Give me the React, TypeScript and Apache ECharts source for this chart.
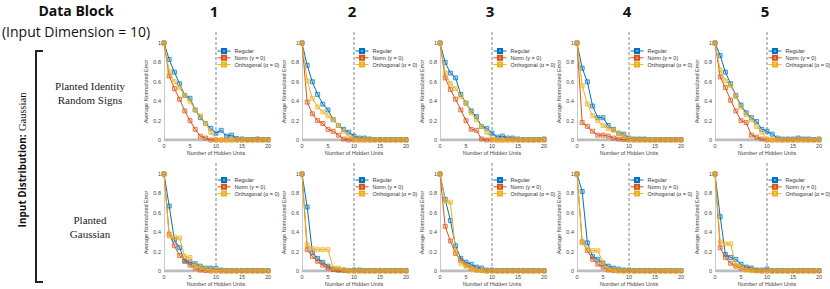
import React, { useEffect, useRef } from 'react';
import * as echarts from 'echarts';

const HIDDEN_UNITS = [0, 1, 2, 3, 4, 5, 6, 7, 8, 9, 10, 11, 12, 13, 14, 15, 16, 17, 18, 19, 20];
const COLUMN_LABELS = ['1', '2', '3', '4', '5'];
const ROW_LABELS = [['Planted Identity', 'Random Signs'], ['Planted', 'Gaussian']];
const SERIES_NAMES = ['Regular', 'Norm (γ = 0)', 'Orthogonal (α = 0)'];
const SERIES_COLORS = ['#0072BD', '#D95319', '#EDB120'];
const SERIES_FILLS = ['rgba(0,114,189,0.25)', 'rgba(217,83,25,0.25)', 'rgba(237,177,32,0.3)'];
const THRESHOLD_X = 10;
const THRESHOLD_TOP = 1.12;

// Row 1: Planted Identity Random Signs
const ROW1_REGULAR = [
  [1, 0.83, 0.70, 0.58, 0.46, 0.43, 0.31, 0.23, 0.17, 0.12, 0.07, 0.10, 0.04, 0.05, 0.015, 0.01, 0.005, 0.005, 0.01, 0.005, 0.005],
  [1, 0.77, 0.60, 0.47, 0.37, 0.31, 0.21, 0.15, 0.11, 0.08, 0.04, 0.02, 0.02, 0.01, 0.005, 0.005, 0.005, 0.005, 0.005, 0.005, 0.005],
  [1, 0.80, 0.69, 0.64, 0.47, 0.38, 0.30, 0.24, 0.14, 0.12, 0.07, 0.03, 0.04, 0.02, 0.02, 0.01, 0.005, 0.005, 0.005, 0.005, 0.01],
  [1, 0.74, 0.60, 0.35, 0.23, 0.23, 0.15, 0.11, 0.07, 0.06, 0.02, 0.01, 0.01, 0.01, 0.005, 0.005, 0.005, 0.005, 0.005, 0.005, 0.005],
  [1, 0.87, 0.70, 0.58, 0.46, 0.36, 0.28, 0.23, 0.19, 0.11, 0.09, 0.06, 0.02, 0.01, 0.01, 0.01, 0.02, 0.01, 0.01, 0.005, 0.01],
];
const ROW1_NORM = [
  [1, 0.66, 0.53, 0.42, 0.30, 0.20, 0.11, 0.04, 0.02, 0, 0, 0, 0, 0, 0, 0, 0, 0, 0, 0, 0],
  [1, 0.39, 0.27, 0.20, 0.17, 0.11, 0.09, 0.05, 0.01, 0, 0, 0, 0, 0, 0, 0, 0, 0, 0, 0, 0],
  [1, 0.64, 0.52, 0.42, 0.31, 0.20, 0.11, 0.10, 0.01, 0, 0, 0, 0, 0, 0, 0, 0, 0, 0, 0, 0],
  [1, 0.18, 0.14, 0.09, 0.05, 0.05, 0.04, 0.02, 0.01, 0.005, 0, 0, 0, 0, 0, 0, 0, 0, 0, 0, 0],
  [1, 0.65, 0.54, 0.41, 0.30, 0.20, 0.18, 0.05, 0.03, 0.01, 0, 0, 0, 0, 0, 0, 0, 0, 0, 0, 0],
];
const ROW1_ORTHO = [
  [1, 0.71, 0.60, 0.54, 0.46, 0.40, 0.31, 0.25, 0.17, 0.08, 0, 0, 0, 0, 0, 0, 0, 0, 0, 0, 0],
  [1, 0.61, 0.43, 0.34, 0.29, 0.25, 0.21, 0.15, 0.09, 0.04, 0.01, 0, 0, 0, 0, 0, 0, 0, 0, 0, 0],
  [1, 0.69, 0.58, 0.53, 0.45, 0.38, 0.28, 0.21, 0.14, 0.08, 0.01, 0, 0, 0, 0, 0, 0, 0, 0, 0, 0],
  [1, 0.56, 0.37, 0.25, 0.20, 0.15, 0.12, 0.10, 0.07, 0.04, 0.01, 0, 0, 0, 0, 0, 0, 0, 0, 0, 0],
  [1, 0.72, 0.61, 0.56, 0.45, 0.34, 0.26, 0.21, 0.14, 0.08, 0.01, 0, 0, 0, 0, 0, 0, 0, 0, 0, 0],
];

// Row 2: Planted Gaussian
const ROW2_REGULAR = [
  [1, 0.67, 0.32, 0.24, 0.10, 0.09, 0.075, 0.05, 0.03, 0.03, 0.025, 0.01, 0.005, 0.005, 0.005, 0.005, 0.005, 0.005, 0.005, 0.005, 0.005],
  [1, 0.66, 0.19, 0.13, 0.09, 0.05, 0.02, 0.01, 0.01, 0.005, 0.01, 0.01, 0.005, 0.005, 0.005, 0.005, 0.005, 0.005, 0.005, 0.005, 0.005],
  [1, 0.74, 0.52, 0.26, 0.13, 0.09, 0.07, 0.04, 0.03, 0.01, 0.01, 0.005, 0.005, 0.005, 0.005, 0.005, 0.005, 0.005, 0.005, 0.005, 0.005],
  [1, 0.82, 0.29, 0.15, 0.12, 0.08, 0.05, 0.03, 0.02, 0.01, 0.01, 0.005, 0.005, 0.005, 0.005, 0.005, 0.005, 0.005, 0.005, 0.005, 0.005],
  [1, 0.56, 0.17, 0.14, 0.12, 0.07, 0.04, 0.03, 0.01, 0.01, 0.02, 0.005, 0.005, 0.005, 0.005, 0.005, 0.005, 0.005, 0.005, 0.005, 0.005],
];
const ROW2_NORM = [
  [1, 0.38, 0.26, 0.16, 0.11, 0.06, 0.03, 0.01, 0.005, 0, 0, 0, 0, 0, 0, 0, 0, 0, 0, 0, 0],
  [1, 0.22, 0.15, 0.10, 0.06, 0.03, 0.015, 0.01, 0.005, 0, 0, 0, 0, 0, 0, 0, 0, 0, 0, 0, 0],
  [1, 0.46, 0.31, 0.18, 0.11, 0.06, 0.03, 0.01, 0.005, 0, 0, 0, 0, 0, 0, 0, 0, 0, 0, 0, 0],
  [1, 0.30, 0.21, 0.12, 0.07, 0.04, 0.01, 0.005, 0, 0, 0, 0, 0, 0, 0, 0, 0, 0, 0, 0, 0],
  [1, 0.24, 0.14, 0.08, 0.05, 0.03, 0.02, 0.01, 0.005, 0, 0, 0, 0, 0, 0, 0, 0, 0, 0, 0, 0],
];
const ROW2_ORTHO = [
  [1, 0.36, 0.35, 0.34, 0.15, 0.14, 0.05, 0.04, 0.02, 0.01, 0.005, 0, 0, 0, 0, 0, 0, 0, 0, 0, 0],
  [1, 0.27, 0.23, 0.22, 0.22, 0.22, 0.03, 0.03, 0.01, 0.005, 0, 0, 0, 0, 0, 0, 0, 0, 0, 0, 0],
  [1, 0.72, 0.71, 0.20, 0.08, 0.05, 0.02, 0.01, 0.005, 0, 0, 0, 0, 0, 0, 0, 0, 0, 0, 0, 0],
  [1, 0.29, 0.23, 0.21, 0.21, 0.09, 0.02, 0.01, 0.005, 0, 0, 0, 0, 0, 0, 0, 0, 0, 0, 0, 0],
  [1, 0.30, 0.28, 0.28, 0.06, 0.04, 0.01, 0.005, 0, 0, 0, 0, 0, 0, 0, 0, 0, 0, 0, 0, 0],
];

const ROWS = [
  [ROW1_REGULAR, ROW1_NORM, ROW1_ORTHO],
  [ROW2_REGULAR, ROW2_NORM, ROW2_ORTHO],
];

// layout (pixels)
const GRID_LEFTS = [164, 302, 440, 577, 715];
const GRID_WIDTH = 104;
const GRID_TOPS = [43, 174];
const GRID_HEIGHT = 97;
const LEGEND_OFFSETS = [5, 3];

const SANS = 'Liberation Sans, Arial, sans-serif';
const SERIF = 'Liberation Serif, DejaVu Serif, serif';
const HEAD = 'Open Sans, sans-serif';

function buildOption() {
  const grid: any[] = [];
  const xAxis: any[] = [];
  const yAxis: any[] = [];
  const series: any[] = [];
  const legend: any[] = [];
  const title: any[] = [];
  let g = 0;
  ROWS.forEach((rowSets, r) => {
    GRID_LEFTS.forEach((left, c) => {
      grid.push({ left, top: GRID_TOPS[r], width: GRID_WIDTH, height: GRID_HEIGHT, containLabel: false });
      xAxis.push({
        type: 'value', gridIndex: g, min: 0, max: 20, interval: 5,
        name: 'Number of Hidden Units', nameLocation: 'middle', nameGap: 8,
        nameTextStyle: { fontSize: 5.5, color: '#444', fontFamily: SANS },
        axisLine: { show: true, lineStyle: { color: '#bbb', width: 0.8 } },
        axisTick: { show: false },
        axisLabel: { fontSize: 5.5, color: '#444', margin: 3, fontFamily: SANS },
        splitLine: { show: false },
      });
      yAxis.push({
        type: 'value', gridIndex: g, min: 0, max: 1, interval: 0.2,
        name: 'Average Normalized Error', nameLocation: 'middle', nameGap: 11,
        nameTextStyle: { fontSize: 5.5, color: '#444', fontFamily: SANS },
        axisLine: { show: true, lineStyle: { color: '#bbb', width: 0.8 } },
        axisTick: { show: false },
        axisLabel: { fontSize: 5.5, color: '#444', margin: 3, fontFamily: SANS },
        splitLine: { show: false },
      });
      series.push({
        type: 'line', xAxisIndex: g, yAxisIndex: g, silent: true, symbol: 'none',
        data: [[0, 0], [THRESHOLD_X, 0]],
        lineStyle: { color: '#bdbdbd', width: 3 }, z: 1,
      });
      series.push({
        type: 'line', xAxisIndex: g, yAxisIndex: g, silent: true, symbol: 'none', clip: false,
        data: [[THRESHOLD_X, 0], [THRESHOLD_X, THRESHOLD_TOP]],
        lineStyle: { color: '#666', width: 0.8, type: [3, 2] }, z: 2,
      });
      rowSets.forEach((set, s) => {
        series.push({
          type: 'line', name: SERIES_NAMES[s], xAxisIndex: g, yAxisIndex: g,
          data: HIDDEN_UNITS.map((u, i) => [u, set[c][i]]),
          symbol: 'rect', symbolSize: 4,
          lineStyle: { color: SERIES_COLORS[s], width: 1 },
          itemStyle: { color: SERIES_FILLS[s], borderColor: SERIES_COLORS[s], borderWidth: 0.7 },
          z: 3 + s,
        });
      });
      legend.push({
        data: SERIES_NAMES, orient: 'vertical',
        left: left + 53, top: GRID_TOPS[r] + LEGEND_OFFSETS[r],
        itemWidth: 13, itemHeight: 5, itemGap: 0.8, padding: 0,
        lineStyle: { width: 1 },
        textStyle: { fontSize: 5.5, color: '#333', fontFamily: SANS, padding: [0, 0, 0, -1] },
        selectedMode: false,
      });
      g++;
    });
  });
  GRID_LEFTS.forEach((left, c) => {
    title.push({
      text: COLUMN_LABELS[c], left: left + GRID_WIDTH / 2 - 2, top: 3, textAlign: 'center', padding: 0,
      textStyle: { fontSize: 15, fontWeight: 'bold', color: '#111', fontFamily: HEAD },
    });
  });
  title.push({
    text: 'Data Block', left: 76, top: 3, textAlign: 'center', padding: 0,
    textStyle: { fontSize: 14, fontWeight: 'bold', color: '#111', fontFamily: HEAD },
  });
  title.push({
    text: '(Input Dimension = 10)', left: 76, top: 24, textAlign: 'center', padding: 0,
    textStyle: { fontSize: 14, fontWeight: 'normal', color: '#111', fontFamily: HEAD },
  });

  const graphic: any[] = [
    {
      type: 'polyline', shape: { points: [[43, 51], [36, 51], [36, 282], [43, 282]] },
      style: { stroke: '#222', lineWidth: 2, fill: 'none' },
    },
    {
      type: 'text', x: 22, y: 160, rotation: Math.PI / 2,
      style: {
        text: '{b|Input Distribution:} {s|Gaussian}', align: 'center', verticalAlign: 'middle',
        rich: {
          b: { fontSize: 10, fontWeight: 'bold', fontFamily: HEAD, fill: '#111' },
          s: { fontSize: 10.5, fontFamily: SERIF, fill: '#111' },
        },
      },
    },
  ];
  const rowTextY = [[86, 100], [220, 234]];
  ROW_LABELS.forEach((lines, r) => {
    lines.forEach((t, k) => {
      graphic.push({
        type: 'text', x: 90, y: rowTextY[r][k],
        style: { text: t, fontSize: 11, fontFamily: SERIF, fill: '#222', align: 'center', verticalAlign: 'middle' },
      });
    });
  });

  return { animation: false, backgroundColor: '#fff', grid, xAxis, yAxis, series, legend, title, graphic };
}

export default function App() {
  const ref = useRef<HTMLDivElement>(null);
  useEffect(() => {
    document.body.style.margin = '0';
    const chart = echarts.init(ref.current!, null, { renderer: 'svg' });
    chart.setOption(buildOption());
    return () => chart.dispose();
  }, []);
  return <div ref={ref} style={{ width: 830, height: 289 }} />;
}
